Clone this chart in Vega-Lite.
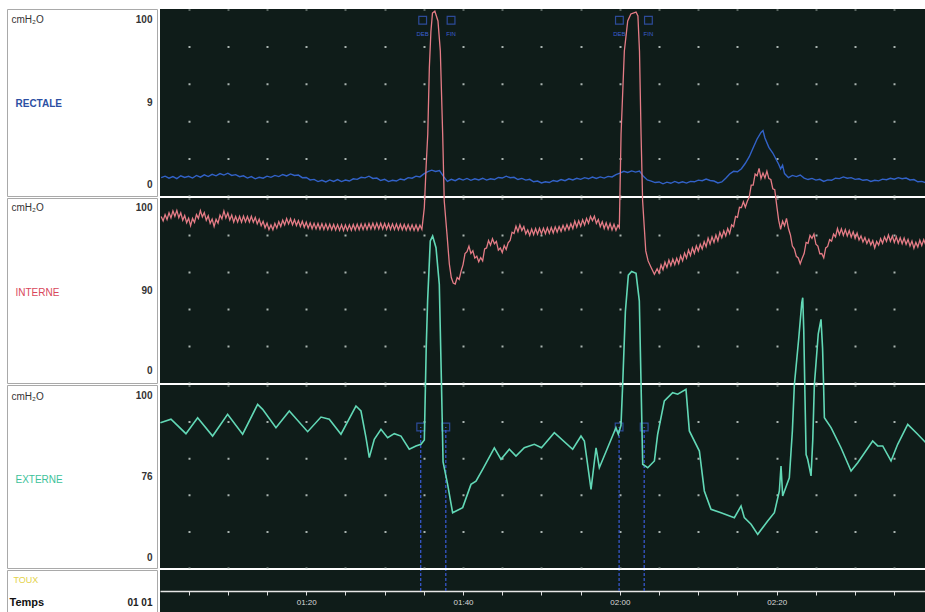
{
"$schema": "https://vega.github.io/schema/vega-lite/v6.json",
"background": "white",
"padding": {"left": 6, "top": 8, "right": 0, "bottom": 0},
"columns": 2,
"spacing": {"row": 2, "column": 3},
"bounds": "flush",
"config": {"view": {"stroke": null}, "axis": {"labelFont": "Liberation Sans", "titleFont": "Liberation Sans"}, "text": {"font": "Liberation Sans"}},
"datasets": {
"rect": [
{"t":61.5,"v":9.8},{"t":62,"v":10.6},{"t":62.5,"v":9.5},{"t":63,"v":10.4},{"t":63.5,"v":9.3},{"t":64,"v":10.8},{"t":64.5,"v":9.9},{"t":65,"v":10.5},{"t":65.5,"v":9.6},{"t":66,"v":11},{"t":66.5,"v":10.1},{"t":67,"v":11.3},{"t":67.5,"v":10.4},{"t":68,"v":11.6},{"t":68.5,"v":10.8},{"t":69,"v":12},{"t":69.5,"v":11.2},{"t":70,"v":12.2},{"t":70.5,"v":11},{"t":71,"v":11.4},{"t":71.5,"v":10.3},{"t":72,"v":10.8},{"t":72.5,"v":9.6},{"t":73,"v":10.4},{"t":73.5,"v":9.2},{"t":74,"v":10},{"t":74.5,"v":9.5},{"t":75,"v":10.6},{"t":75.5,"v":10},{"t":76,"v":11},{"t":76.5,"v":10.4},{"t":77,"v":11.5},{"t":77.5,"v":10.7},{"t":78,"v":11.8},{"t":78.5,"v":11},{"t":79,"v":11.2},{"t":79.5,"v":9.8},{"t":80,"v":9.9},{"t":80.5,"v":8.6},{"t":81,"v":8.9},{"t":81.5,"v":7.7},{"t":82,"v":8.4},{"t":82.5,"v":7.5},{"t":83,"v":8.6},{"t":83.5,"v":7.8},{"t":84,"v":8.8},{"t":84.5,"v":7.7},{"t":85,"v":8.5},{"t":85.5,"v":8},{"t":86,"v":9.2},{"t":86.5,"v":8.9},{"t":87,"v":10},{"t":87.5,"v":9.7},{"t":88,"v":10.6},{"t":88.5,"v":9.4},{"t":89,"v":9.6},{"t":89.5,"v":8.3},{"t":90,"v":8.9},{"t":90.5,"v":7.7},{"t":91,"v":8.4},{"t":91.5,"v":8},{"t":92,"v":9.1},{"t":92.5,"v":8.6},{"t":93,"v":9.8},{"t":93.5,"v":9.5},{"t":94,"v":10.6},{"t":94.5,"v":10.2},{"t":95,"v":11.8},{"t":95.5,"v":13},{"t":96,"v":13.8},{"t":96.5,"v":13.1},{"t":97,"v":13.6},{"t":97.5,"v":10.5},{"t":98,"v":7.8},{"t":98.5,"v":8.9},{"t":99,"v":8.2},{"t":99.5,"v":9.3},{"t":100,"v":8.5},{"t":100.5,"v":9.4},{"t":101,"v":8.4},{"t":101.5,"v":9.2},{"t":102,"v":8.6},{"t":102.5,"v":9.5},{"t":103,"v":8.5},{"t":103.5,"v":9.2},{"t":104,"v":8.8},{"t":104.5,"v":9.9},{"t":105,"v":9.6},{"t":105.5,"v":10.6},{"t":106,"v":9.8},{"t":106.5,"v":10},{"t":107,"v":8.8},{"t":107.5,"v":9.4},{"t":108,"v":8.5},{"t":108.5,"v":8.9},{"t":109,"v":7.6},{"t":109.5,"v":8},{"t":110,"v":7},{"t":110.5,"v":7.6},{"t":111,"v":7.2},{"t":111.5,"v":8.3},{"t":112,"v":7.8},{"t":112.5,"v":8.8},{"t":113,"v":8.2},{"t":113.5,"v":9.2},{"t":114,"v":8.6},{"t":114.5,"v":9.5},{"t":115,"v":8.9},{"t":115.5,"v":9.8},{"t":116,"v":9.2},{"t":116.5,"v":10.1},{"t":117,"v":9.4},{"t":117.5,"v":10.2},{"t":118,"v":9.6},{"t":118.5,"v":10.5},{"t":119,"v":10.2},{"t":119.5,"v":11.4},{"t":120,"v":12.2},{"t":120.5,"v":13.2},{"t":121,"v":12.6},{"t":121.5,"v":13.4},{"t":122,"v":12.8},{"t":122.5,"v":13.3},{"t":123,"v":10.5},{"t":123.5,"v":8.6},{"t":124,"v":8},{"t":124.5,"v":7.2},{"t":125,"v":7.5},{"t":125.5,"v":6.5},{"t":126,"v":7.4},{"t":126.5,"v":6.8},{"t":127,"v":7.8},{"t":127.5,"v":7},{"t":128,"v":7.6},{"t":128.5,"v":6.9},{"t":129,"v":7.8},{"t":129.5,"v":7.6},{"t":130,"v":8.5},{"t":130.5,"v":8.2},{"t":131,"v":9.1},{"t":131.5,"v":8.3},{"t":132,"v":8},{"t":132.5,"v":7},{"t":133,"v":7.5},{"t":133.5,"v":9.5},{"t":134,"v":11.8},{"t":134.5,"v":13.2},{"t":135,"v":13},{"t":135.5,"v":14.6},{"t":136,"v":17.5},{"t":136.5,"v":21},{"t":137,"v":25.8},{"t":137.5,"v":30.5},{"t":138,"v":34},{"t":138.25,"v":35},{"t":138.5,"v":31},{"t":139,"v":26},{"t":139.5,"v":23},{"t":140,"v":19},{"t":140.25,"v":17},{"t":140.5,"v":14.5},{"t":140.75,"v":16.5},{"t":141,"v":12},{"t":141.5,"v":9.8},{"t":142,"v":11},{"t":142.5,"v":10.4},{"t":143,"v":11.2},{"t":143.5,"v":9.6},{"t":144,"v":8.8},{"t":144.5,"v":9.4},{"t":145,"v":8.5},{"t":145.5,"v":8.9},{"t":146,"v":7.8},{"t":146.5,"v":8.6},{"t":147,"v":8.4},{"t":147.5,"v":9.5},{"t":148,"v":9.3},{"t":148.5,"v":10.2},{"t":149,"v":9.5},{"t":149.5,"v":9.8},{"t":150,"v":8.9},{"t":150.5,"v":9.2},{"t":151,"v":8.4},{"t":151.5,"v":8.7},{"t":152,"v":7.8},{"t":152.5,"v":8.4},{"t":153,"v":8.1},{"t":153.5,"v":9},{"t":154,"v":8.7},{"t":154.5,"v":9.5},{"t":155,"v":9},{"t":155.5,"v":9.8},{"t":156,"v":9.2},{"t":156.5,"v":9.6},{"t":157,"v":8.6},{"t":157.5,"v":8.8},{"t":158,"v":7.6},{"t":158.5,"v":7.8},{"t":159,"v":7.1}
],
"int": [
{"t":61.5,"v":90},{"t":61.75,"v":87.6},{"t":62,"v":91},{"t":62.25,"v":88.4},{"t":62.5,"v":92},{"t":62.75,"v":89.2},{"t":63,"v":93},{"t":63.25,"v":90.1},{"t":63.5,"v":93.3},{"t":63.75,"v":89.4},{"t":64,"v":92},{"t":64.25,"v":88},{"t":64.5,"v":90.5},{"t":64.75,"v":86.6},{"t":65,"v":89.1},{"t":65.25,"v":85},{"t":65.5,"v":89},{"t":65.75,"v":86.8},{"t":66,"v":91},{"t":66.25,"v":89},{"t":66.5,"v":93.2},{"t":66.75,"v":89.8},{"t":67,"v":92.1},{"t":67.25,"v":88},{"t":67.5,"v":90.4},{"t":67.75,"v":86.3},{"t":68,"v":88.6},{"t":68.25,"v":84.6},{"t":68.5,"v":88.5},{"t":68.75,"v":86.4},{"t":69,"v":90.8},{"t":69.25,"v":88.7},{"t":69.5,"v":93},{"t":69.75,"v":89.2},{"t":70,"v":91.9},{"t":70.25,"v":88.1},{"t":70.5,"v":90.8},{"t":70.75,"v":87},{"t":71,"v":90},{"t":71.25,"v":87},{"t":71.5,"v":90.1},{"t":71.75,"v":86.9},{"t":72,"v":90.2},{"t":72.25,"v":87.1},{"t":72.5,"v":90},{"t":72.75,"v":87},{"t":73,"v":90.1},{"t":73.25,"v":86.9},{"t":73.5,"v":89.5},{"t":73.75,"v":86},{"t":74,"v":88.5},{"t":74.25,"v":85},{"t":74.5,"v":87.4},{"t":74.75,"v":83.9},{"t":75,"v":86.4},{"t":75.25,"v":82.9},{"t":75.5,"v":85.4},{"t":75.75,"v":82.8},{"t":76,"v":86.3},{"t":76.25,"v":83.7},{"t":76.5,"v":87.2},{"t":76.75,"v":84.6},{"t":77,"v":88},{"t":77.25,"v":85.5},{"t":77.5,"v":88.9},{"t":77.75,"v":86},{"t":78,"v":88.8},{"t":78.25,"v":85.5},{"t":78.5,"v":88.3},{"t":78.75,"v":85.1},{"t":79,"v":87.8},{"t":79.25,"v":84.6},{"t":79.5,"v":87.4},{"t":79.75,"v":84.2},{"t":80,"v":86.9},{"t":80.25,"v":83.7},{"t":80.5,"v":86.5},{"t":80.75,"v":83.4},{"t":81,"v":86.3},{"t":81.25,"v":83.3},{"t":81.5,"v":86.2},{"t":81.75,"v":83.1},{"t":82,"v":86.1},{"t":82.25,"v":83},{"t":82.5,"v":86},{"t":82.75,"v":82.9},{"t":83,"v":85.8},{"t":83.25,"v":82.8},{"t":83.5,"v":85.7},{"t":83.75,"v":82.7},{"t":84,"v":85.6},{"t":84.25,"v":82.5},{"t":84.5,"v":85.5},{"t":84.75,"v":82.4},{"t":85,"v":85.4},{"t":85.25,"v":82.5},{"t":85.5,"v":85.5},{"t":85.75,"v":82.6},{"t":86,"v":85.7},{"t":86.25,"v":82.7},{"t":86.5,"v":85.8},{"t":86.75,"v":82.8},{"t":87,"v":85.9},{"t":87.25,"v":82.9},{"t":87.5,"v":86},{"t":87.75,"v":83},{"t":88,"v":86.2},{"t":88.25,"v":83.2},{"t":88.5,"v":86.3},{"t":88.75,"v":83.3},{"t":89,"v":86.4},{"t":89.25,"v":83.3},{"t":89.5,"v":86.3},{"t":89.75,"v":83.2},{"t":90,"v":86.2},{"t":90.25,"v":83.1},{"t":90.5,"v":86.1},{"t":90.75,"v":83},{"t":91,"v":86},{"t":91.25,"v":82.9},{"t":91.5,"v":85.9},{"t":91.75,"v":82.8},{"t":92,"v":85.8},{"t":92.25,"v":82.8},{"t":92.5,"v":85.7},{"t":92.75,"v":82.7},{"t":93,"v":85.6},{"t":93.25,"v":82.6},{"t":93.5,"v":85.5},{"t":93.75,"v":82.5},{"t":94,"v":85.4},{"t":94.25,"v":82.4},{"t":94.5,"v":85.3},{"t":94.75,"v":83},
{"t":95.06,"v":94.8},{"t":95.3,"v":118},{"t":95.5,"v":134.6},{"t":95.7,"v":170.4},{"t":95.9,"v":190},{"t":96.1,"v":200},{"t":96.4,"v":201},{"t":96.8,"v":195.7},{"t":97.1,"v":179.5},{"t":97.4,"v":134.6},{"t":97.6,"v":98.4},{"t":97.95,"v":80.5},{"t":98.25,"v":64.3},{"t":98.5,"v":57},{"t":98.75,"v":54},{"t":99,"v":53.5},
{"t":99.25,"v":57},{"t":99.5,"v":56},{"t":99.75,"v":60.5},{"t":100,"v":64},{"t":100.25,"v":70},{"t":100.5,"v":71},{"t":100.75,"v":74},{"t":101,"v":70},{"t":101.25,"v":71.5},{"t":101.5,"v":67.5},{"t":101.75,"v":68.5},{"t":102,"v":65.5},{"t":102.25,"v":67.8},{"t":102.5,"v":66},{"t":102.75,"v":72.5},{"t":103,"v":73},{"t":103.25,"v":77},{"t":103.5,"v":74.5},{"t":103.75,"v":78},{"t":104,"v":75.3},{"t":104.25,"v":76.5},{"t":104.5,"v":71.8},{"t":104.75,"v":73},{"t":105,"v":70.5},{"t":105.25,"v":74.3},{"t":105.5,"v":72.2},{"t":105.75,"v":75.8},{"t":106,"v":77},{"t":106.25,"v":81.5},{"t":106.5,"v":80.8},{"t":106.75,"v":84.8},{"t":107,"v":81.8},{"t":107.25,"v":85.5},{"t":107.5,"v":82.4},{"t":107.75,"v":84.5},{"t":108,"v":80.6},{"t":108.25,"v":82.7},{"t":108.5,"v":79.8},{"t":108.75,"v":83.2},{"t":109,"v":80.2},{"t":109.25,"v":83.5},{"t":109.5,"v":80.4},{"t":109.75,"v":83.6},{"t":110,"v":80.6},{"t":110.25,"v":83.7},{"t":110.5,"v":80.7},{"t":110.75,"v":83.9},{"t":111,"v":80.9},{"t":111.25,"v":84.1},{"t":111.5,"v":81.1},{"t":111.75,"v":84.4},{"t":112,"v":81.6},{"t":112.25,"v":84.6},{"t":112.5,"v":82},{"t":112.75,"v":85.2},{"t":113,"v":82.5},{"t":113.25,"v":85.6},{"t":113.5,"v":82.9},{"t":113.75,"v":86.1},{"t":114,"v":83.4},{"t":114.25,"v":87.5},{"t":114.5,"v":84.3},{"t":114.75,"v":87.7},{"t":115,"v":84.8},{"t":115.25,"v":88.2},{"t":115.5,"v":85.4},{"t":115.75,"v":89},{"t":116,"v":86.4},{"t":116.25,"v":90.1},{"t":116.5,"v":87.8},{"t":116.75,"v":90.2},{"t":117,"v":86.3},{"t":117.25,"v":88.4},{"t":117.5,"v":84.5},{"t":117.75,"v":87.2},{"t":118,"v":83.5},{"t":118.25,"v":86.6},{"t":118.5,"v":83.2},{"t":118.75,"v":86.2},{"t":119,"v":82.7},{"t":119.25,"v":85.8},{"t":119.5,"v":82.5},{"t":119.75,"v":85.3},{"t":119.93,"v":84},
{"t":120.15,"v":134.6},{"t":120.57,"v":179.5},{"t":121,"v":195.7},{"t":121.4,"v":199.5},{"t":122.06,"v":200.5},{"t":122.3,"v":198.4},{"t":122.5,"v":179.5},{"t":122.7,"v":134.6},{"t":122.9,"v":98.4},{"t":123.3,"v":71.4},{"t":123.6,"v":66},{"t":124,"v":62.3},{"t":124.4,"v":58.8},
{"t":124.75,"v":61.8},{"t":125,"v":59.5},{"t":125.25,"v":63.8},{"t":125.5,"v":61.2},{"t":125.75,"v":65.3},{"t":126,"v":62.5},{"t":126.25,"v":66.5},{"t":126.5,"v":63.4},{"t":126.75,"v":67},{"t":127,"v":64},{"t":127.25,"v":67.4},{"t":127.5,"v":64.6},{"t":127.75,"v":68.8},{"t":128,"v":66},{"t":128.25,"v":70.2},{"t":128.5,"v":67.5},{"t":128.75,"v":71.9},{"t":129,"v":68.9},{"t":129.25,"v":73},{"t":129.5,"v":70.1},{"t":129.75,"v":74.1},{"t":130,"v":71.4},{"t":130.25,"v":75},{"t":130.5,"v":72.4},{"t":130.75,"v":76.4},{"t":131,"v":73.7},{"t":131.25,"v":78.3},{"t":131.5,"v":75.1},{"t":131.75,"v":79},{"t":132,"v":76},{"t":132.25,"v":80},{"t":132.5,"v":76.8},{"t":132.75,"v":81.4},{"t":133,"v":78.6},{"t":133.25,"v":82.3},{"t":133.5,"v":79.5},{"t":133.75,"v":83.5},{"t":134,"v":80.8},{"t":134.25,"v":85.5},{"t":134.5,"v":84.5},{"t":134.75,"v":90},{"t":135,"v":89.5},{"t":135.25,"v":95},{"t":135.5,"v":94.8},{"t":135.75,"v":98},{"t":136,"v":95},{"t":136.25,"v":98.2},{"t":136.5,"v":100.5},{"t":136.75,"v":107},{"t":137,"v":107},{"t":137.25,"v":113},{"t":137.5,"v":112},{"t":137.75,"v":116},{"t":138,"v":110.5},{"t":138.25,"v":113.5},{"t":138.5,"v":110.8},{"t":138.75,"v":114.5},{"t":139,"v":110.5},{"t":139.25,"v":110},{"t":139.5,"v":105},{"t":139.75,"v":104.5},{"t":140,"v":96},{"t":140.25,"v":88},{"t":140.5,"v":83},{"t":140.75,"v":87.5},{"t":141,"v":85},{"t":141.25,"v":89},{"t":141.5,"v":83.5},{"t":141.75,"v":80},{"t":142,"v":74},{"t":142.25,"v":72.5},{"t":142.5,"v":68.5},{"t":142.75,"v":67.6},{"t":143,"v":64.5},{"t":143.25,"v":67.5},{"t":143.5,"v":70},{"t":143.75,"v":76},{"t":144,"v":75.5},{"t":144.25,"v":79.8},{"t":144.5,"v":78.2},{"t":144.75,"v":80.5},{"t":145,"v":75},{"t":145.25,"v":74},{"t":145.5,"v":69.8},{"t":145.75,"v":70},{"t":146,"v":67.6},{"t":146.25,"v":73},{"t":146.5,"v":73.8},{"t":146.75,"v":77.5},{"t":147,"v":76.7},{"t":147.25,"v":80.5},{"t":147.5,"v":79},{"t":147.75,"v":83.5},{"t":148,"v":80.2},{"t":148.25,"v":83.3},{"t":148.5,"v":79.8},{"t":148.75,"v":82.9},{"t":149,"v":79.5},{"t":149.25,"v":82.4},{"t":149.5,"v":78.8},{"t":149.75,"v":81.7},{"t":150,"v":78.1},{"t":150.25,"v":81},{"t":150.5,"v":77.3},{"t":150.75,"v":79.5},{"t":151,"v":76.2},{"t":151.25,"v":78.6},{"t":151.5,"v":75.4},{"t":151.75,"v":77.7},{"t":152,"v":74.6},{"t":152.25,"v":76.9},{"t":152.5,"v":73},{"t":152.75,"v":76.5},{"t":153,"v":74.5},{"t":153.25,"v":78},{"t":153.5,"v":75.5},{"t":153.75,"v":79},{"t":154,"v":76.6},{"t":154.25,"v":80},{"t":154.5,"v":76.6},{"t":154.75,"v":79.4},{"t":155,"v":76},{"t":155.25,"v":79},{"t":155.5,"v":75.6},{"t":155.75,"v":78.5},{"t":156,"v":75.3},{"t":156.25,"v":78.3},{"t":156.5,"v":75},{"t":156.75,"v":77.6},{"t":157,"v":74},{"t":157.25,"v":76.7},{"t":157.5,"v":72.8},{"t":157.75,"v":76},{"t":158,"v":73.5},{"t":158.25,"v":77.2},{"t":158.5,"v":74.3},{"t":158.75,"v":77.5},{"t":159,"v":74.6}
],
"ext": [
{"t":61.4,"v":79.4},{"t":62.75,"v":81.3},{"t":64.66,"v":73.4},{"t":66.15,"v":82.1},{"t":68.06,"v":72.1},{"t":69.97,"v":84},{"t":71.89,"v":73.1},{"t":73.8,"v":89.4},{"t":74.44,"v":86.7},{"t":76.14,"v":76.7},{"t":77.84,"v":85.8},{"t":80.18,"v":74.5},{"t":81.88,"v":82.5},{"t":82.94,"v":81.3},{"t":84.43,"v":73.1},{"t":86.34,"v":88.5},{"t":86.98,"v":85.8},{"t":87.62,"v":71.2},{"t":88.04,"v":60.3},{"t":88.68,"v":70.3},{"t":89.53,"v":75.8},{"t":90.38,"v":71.2},{"t":91.23,"v":73.4},{"t":92.08,"v":72.1},{"t":93.14,"v":64.9},{"t":93.99,"v":66.7},{"t":94.63,"v":67.6},{"t":95.06,"v":70},{"t":95.3,"v":120},{"t":95.48,"v":146},{"t":95.82,"v":178.7},{"t":96.12,"v":181.4},{"t":96.55,"v":175},{"t":96.97,"v":155},{"t":97.25,"v":100},{"t":97.45,"v":58},{"t":98.03,"v":45.7},{"t":98.67,"v":30.2},{"t":99.95,"v":33},{"t":101.01,"v":45.7},{"t":101.65,"v":47.5},{"t":102.5,"v":53.9},{"t":103.99,"v":65.7},{"t":104.84,"v":59.4},{"t":105.9,"v":64.9},{"t":106.75,"v":61.2},{"t":107.81,"v":65.7},{"t":109.09,"v":67.6},{"t":110,"v":65.7},{"t":111.64,"v":73.9},{"t":113.98,"v":64.9},{"t":115.04,"v":72.1},{"t":115.47,"v":69.4},{"t":116.32,"v":43},{"t":116.96,"v":65.7},{"t":117.38,"v":54.8},{"t":119.5,"v":76.7},{"t":119.8,"v":73.1},{"t":120.14,"v":78},{"t":120.36,"v":100.5},{"t":120.7,"v":140},{"t":121.08,"v":160},{"t":121.5,"v":162},{"t":122.06,"v":161},{"t":122.48,"v":146},{"t":122.7,"v":100.5},{"t":122.91,"v":56.7},{"t":123.55,"v":54.8},{"t":124.4,"v":58.5},{"t":124.82,"v":73.1},{"t":125.67,"v":91.3},{"t":126.73,"v":95.8},{"t":127.37,"v":95},{"t":128.43,"v":97.6},{"t":128.86,"v":74.9},{"t":130.14,"v":63.9},{"t":130.77,"v":42.1},{"t":131.62,"v":32.1},{"t":132.9,"v":30.2},{"t":134.6,"v":27.5},{"t":135.45,"v":33.9},{"t":135.87,"v":27.5},{"t":136.73,"v":23.9},{"t":137.58,"v":18.4},{"t":138.85,"v":25.7},{"t":139.7,"v":30.2},{"t":140.34,"v":42.1},{"t":140.55,"v":55.7},{"t":140.76,"v":39.3},{"t":141.61,"v":49.3},{"t":142,"v":75},{"t":142.25,"v":100},{"t":142.8,"v":125},{"t":143.2,"v":145},{"t":143.32,"v":147.7},{"t":143.45,"v":130},{"t":143.6,"v":95},{"t":143.75,"v":62},{"t":143.95,"v":59.4},{"t":144.38,"v":50.3},{"t":144.6,"v":70},{"t":144.8,"v":100},{"t":145.3,"v":128},{"t":145.65,"v":135.9},{"t":145.85,"v":120},{"t":145.98,"v":100},{"t":146.08,"v":82.1},{"t":146.93,"v":76.7},{"t":148.2,"v":65.7},{"t":149.48,"v":53},{"t":150.33,"v":57.5},{"t":152.24,"v":69.4},{"t":152.88,"v":66.7},{"t":153.52,"v":66.7},{"t":154.58,"v":58.5},{"t":155.43,"v":67.6},{"t":156.71,"v":78.5},{"t":157.98,"v":73.1},{"t":159,"v":68.5}
],
"ev": [{"t":94.6},{"t":97.8},{"t":119.9},{"t":123.1}],
"evr": [{"t":94.85,"lab":"DEB"},{"t":98.47,"lab":"FIN"},{"t":119.94,"lab":"DEB"},{"t":123.64,"lab":"FIN"}]
},
"concat": [
{"width": 150, "height": 187, "view": {"fill": "#ffffff", "stroke": "#a9a9a9", "strokeWidth": 1}, "data": {"values": [{}]}, "mark": {"type": "text", "text": ""}, "encoding": {}},
{
"width": 766, "height": 187,
"view": {"fill": "#0f1c19", "stroke": null},
"layer": [
{"data": {"name": "rect"}, "mark": {"type": "line", "color": "#3262c8", "strokeWidth": 1.4, "clip": false},
 "encoding": {
  "x": {"field": "t", "type": "quantitative", "scale": {"domain": [61.35, 159.04], "nice": false, "zero": false},
   "axis": {"values": [65,70,75,80,85,90,95,100,105,110,115,120,125,130,135,140,145,150,155], "labels": false, "ticks": false, "domain": false, "grid": true, "gridColor": "#a9b3b0", "gridWidth": 2, "gridDash": [2, 35.4], "gridDashOffset": 1,
    "title": "cmH₂O", "titleX": -149, "titleY": -177, "titleAngle": 0, "titleAlign": "left", "titleBaseline": "middle", "titleFontSize": 10, "titleFontWeight": "normal", "titleColor": "#333333"}},
  "y": {"field": "v", "type": "quantitative", "scale": {"domain": [0, 100], "nice": false, "zero": false},
   "axis": {"values": [6.4, 50, 94.65], "labelExpr": "datum.value > 90 ? '100' : (datum.value < 10 ? '0' : '9')", "ticks": false, "domain": false, "grid": false, "labelPadding": 8, "labelFontSize": 10, "labelFontWeight": "bold", "labelColor": "#333333", "labelOverlap": false,
    "title": "RECTALE", "titleX": -145, "titleY": 94, "titleAngle": 0, "titleAlign": "left", "titleBaseline": "middle", "titleFontSize": 10, "titleFontWeight": "bold", "titleColor": "#2c4fa3"}}
 }},
{"data": {"name": "evr"}, "mark": {"type": "point", "shape": "square", "filled": false, "color": "#3a5fd0", "size": 60, "strokeWidth": 1.2, "clip": false},
 "encoding": {"x": {"field": "t", "type": "quantitative"}, "y": {"datum": 94}}},
{"data": {"name": "evr"}, "mark": {"type": "text", "color": "#3a5fd0", "fontSize": 6, "baseline": "middle", "align": "center"},
 "encoding": {"x": {"field": "t", "type": "quantitative"}, "y": {"datum": 86.5}, "text": {"field": "lab"}}}
]
},
{"width": 150, "height": 185, "view": {"fill": "#ffffff", "stroke": "#a9a9a9", "strokeWidth": 1}, "data": {"values": [{}]}, "mark": {"type": "text", "text": ""}, "encoding": {}},
{
"width": 766, "height": 185,
"view": {"fill": "#0f1c19", "stroke": null},
"layer": [
{"data": {"name": "int"}, "mark": {"type": "line", "color": "#e57c86", "strokeWidth": 1.3, "clip": false},
 "encoding": {
  "x": {"field": "t", "type": "quantitative", "scale": {"domain": [61.35, 159.04], "nice": false, "zero": false},
   "axis": {"values": [65,70,75,80,85,90,95,100,105,110,115,120,125,130,135,140,145,150,155], "labels": false, "ticks": false, "domain": false, "grid": true, "gridColor": "#a9b3b0", "gridWidth": 2, "gridDash": [2, 35], "gridDashOffset": 1,
    "title": "cmH₂O", "titleX": -149, "titleY": -176, "titleAngle": 0, "titleAlign": "left", "titleBaseline": "middle", "titleFontSize": 10, "titleFontWeight": "normal", "titleColor": "#333333"}},
  "y": {"field": "v", "type": "quantitative", "scale": {"domain": [0, 100], "nice": false, "zero": false},
   "axis": {"values": [6.5, 50, 95.1], "labelExpr": "datum.value > 90 ? '100' : (datum.value < 10 ? '0' : '90')", "ticks": false, "domain": false, "grid": false, "labelPadding": 8, "labelFontSize": 10, "labelFontWeight": "bold", "labelColor": "#333333", "labelOverlap": false,
    "title": "INTERNE", "titleX": -145, "titleY": 94, "titleAngle": 0, "titleAlign": "left", "titleBaseline": "middle", "titleFontSize": 10, "titleFontWeight": "normal", "titleColor": "#d9475a"}}
 }}
]
},
{"width": 150, "height": 183, "view": {"fill": "#ffffff", "stroke": "#a9a9a9", "strokeWidth": 1}, "data": {"values": [{}]}, "mark": {"type": "text", "text": ""}, "encoding": {}},
{
"width": 766, "height": 183,
"view": {"fill": "#0f1c19", "stroke": null},
"layer": [
{"data": {"name": "ev"}, "mark": {"type": "rule", "color": "#3a5bd8", "strokeDash": [3, 2], "strokeWidth": 1.2},
 "encoding": {
  "x": {"field": "t", "type": "quantitative", "scale": {"domain": [61.35, 159.04], "nice": false, "zero": false},
   "axis": {"values": [65,70,75,80,85,90,95,100,105,110,115,120,125,130,135,140,145,150,155], "labels": false, "ticks": false, "domain": false, "grid": true, "gridColor": "#a9b3b0", "gridWidth": 2, "gridDash": [2, 34.6], "gridDashOffset": 1,
    "title": "cmH₂O", "titleX": -149, "titleY": -172, "titleAngle": 0, "titleAlign": "left", "titleBaseline": "middle", "titleFontSize": 10, "titleFontWeight": "normal", "titleColor": "#333333"}},
  "y": {"datum": 0, "type": "quantitative", "scale": {"domain": [0, 100], "nice": false, "zero": false},
   "axis": {"values": [6, 50, 94], "labelExpr": "datum.value > 90 ? '100' : (datum.value < 10 ? '0' : '76')", "ticks": false, "domain": false, "grid": false, "labelPadding": 8, "labelFontSize": 10, "labelFontWeight": "bold", "labelColor": "#333333", "labelOverlap": false,
    "title": "EXTERNE", "titleX": -145, "titleY": 94, "titleAngle": 0, "titleAlign": "left", "titleBaseline": "middle", "titleFontSize": 10, "titleFontWeight": "normal", "titleColor": "#3cc29a"}},
  "y2": {"datum": 77}
 }},
{"data": {"name": "ev"}, "mark": {"type": "point", "shape": "square", "filled": false, "color": "#3a5fd0", "size": 60, "strokeWidth": 1.2},
 "encoding": {"x": {"field": "t", "type": "quantitative"}, "y": {"datum": 77}}},
{"data": {"name": "ext"}, "mark": {"type": "line", "color": "#62d8b6", "strokeWidth": 1.6, "clip": false},
 "encoding": {"x": {"field": "t", "type": "quantitative"}, "y": {"field": "v", "type": "quantitative"}}}
]
},
{"width": 150, "height": 43, "view": {"fill": "#ffffff", "stroke": "#a9a9a9", "strokeWidth": 1}, "data": {"values": [{}]}, "mark": {"type": "text", "text": ""}, "encoding": {}},
{
"width": 766, "height": 43,
"view": {"fill": "#0f1c19", "stroke": null},
"layer": [
{"data": {"name": "ev"}, "mark": {"type": "rule", "color": "#3a5bd8", "strokeDash": [3, 2], "strokeWidth": 1.2},
 "encoding": {
  "x": {"field": "t", "type": "quantitative", "scale": {"domain": [61.35, 159.04], "nice": false, "zero": false},
   "axis": {"values": [65,70,75,80,85,90,95,100,105,110,115,120,125,130,135,140,145,150,155], "offset": -22, "labelExpr": "datum.value % 20 == 0 ? utcFormat(datum.value * 1000, '%M:%S') : ''", "labelColor": "#d8d8d8", "labelFontSize": 8, "labelPadding": 3, "ticks": true, "tickColor": "#dddddd", "tickSize": 4, "domain": true, "domainColor": "#e6e6e6", "domainWidth": 1.5, "grid": false,
    "title": "Temps", "titleX": -151, "titleY": 11, "titleAngle": 0, "titleAlign": "left", "titleBaseline": "middle", "titleFontSize": 11, "titleFontWeight": "bold", "titleColor": "#111111"}},
  "y": {"datum": 22, "type": "quantitative", "scale": {"domain": [0, 43], "nice": false, "zero": false},
   "axis": {"values": [11], "labelExpr": "'01 01'", "ticks": false, "domain": false, "grid": false, "labelPadding": 8, "labelFontSize": 10, "labelFontWeight": "bold", "labelColor": "#222222",
    "title": "TOUX", "titleX": -147, "titleY": 9, "titleAngle": 0, "titleAlign": "left", "titleBaseline": "middle", "titleFontSize": 9, "titleFontWeight": "normal", "titleColor": "#e3d24a"}},
  "y2": {"datum": 43}
 }}
]
}
]
}
